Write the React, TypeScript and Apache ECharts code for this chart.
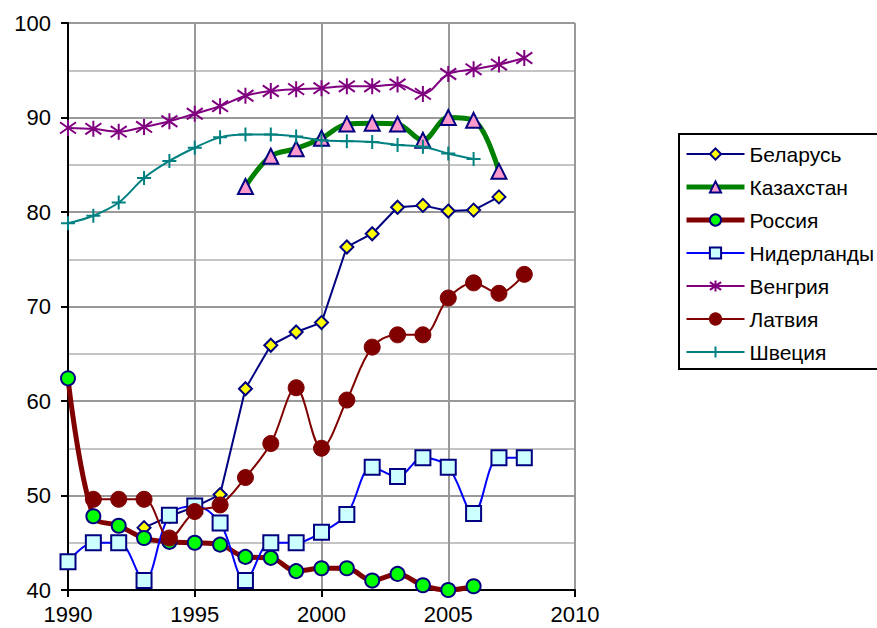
import React, { useEffect, useRef } from "react";
import * as echarts from "echarts";

const years = [1990, 1991, 1992, 1993, 1994, 1995, 1996, 1997, 1998, 1999, 2000, 2001, 2002, 2003, 2004, 2005, 2006, 2007, 2008];

const belarus = [null, null, null, 46.6, 47.8, 48.8, 50.1, 61.3, 65.9, 67.3, 68.3, 76.3, 77.7, 80.5, 80.7, 80.1, 80.2, 81.6, null];
const kazakhstan = [null, null, null, null, null, null, null, 82.7, 85.9, 86.7, 87.8, 89.3, 89.4, 89.3, 87.6, 90.0, 89.7, 84.3, null];
const russia = [62.4, 47.8, 46.8, 45.5, 45.1, 45.0, 44.8, 43.5, 43.4, 42.0, 42.3, 42.3, 41.0, 41.7, 40.5, 40.0, 40.4, null, null];
const netherlands = [43.0, 45.0, 45.0, 41.0, 47.9, 48.9, 47.1, 41.0, 45.0, 45.0, 46.1, 48.0, 53.0, 52.0, 54.0, 53.0, 48.1, 54.0, 54.0];
const hungary = [88.9, 88.8, 88.5, 89.0, 89.6, 90.4, 91.2, 92.3, 92.8, 93.0, 93.1, 93.3, 93.3, 93.5, 92.5, 94.6, 95.1, 95.6, 96.3];
const latvia = [null, 49.6, 49.6, 49.6, 45.5, 48.3, 49.0, 51.9, 55.5, 61.4, 55.0, 60.1, 65.7, 67.0, 67.0, 70.9, 72.5, 71.4, 73.4];
const sweden = [78.8, 79.6, 81.0, 83.6, 85.4, 86.8, 87.9, 88.2, 88.2, 88.0, 87.6, 87.5, 87.4, 87.1, 86.9, 86.2, 85.6, null, null];

const names = ["Беларусь", "Казахстан", "Россия", "Нидерланды", "Венгрия", "Латвия", "Швеция"];

const xTicks = [1990, 1995, 2000, 2005, 2010];
const yTicks = [40, 50, 60, 70, 80, 90, 100];

const pairs = (vals: (number | null)[]) =>
  years.map((y, i) => [y, vals[i]]).filter((p) => p[1] !== null);

export default function App() {
  const ref = useRef<HTMLDivElement>(null);
  useEffect(() => {
    if (!ref.current) return;
    const chart = echarts.init(ref.current, null, { renderer: "svg" });
    const navy = "#000080";
    const star = "path://M5,0 L5,10 M0,1.5 L10,8.5 M10,1.5 L0,8.5";
    const plus = "path://M5,0 L5,10 M0,5 L10,5";
    const font = "Liberation Sans, Arial, sans-serif";
    const widths = [2, 5, 5, 2, 2, 2, 2];
    chart.setOption({
      animation: false,
      backgroundColor: "#ffffff",
      textStyle: { fontFamily: font },
      grid: { left: 68, right: 302, top: 23, bottom: 38, containLabel: false },
      legend: {
        orient: "vertical",
        left: 679,
        top: 134,
        itemWidth: 58,
        itemHeight: 14,
        itemGap: 11,
        padding: [9, 12, 6, 5],
        borderColor: "#000",
        borderWidth: 2,
        textStyle: { fontSize: 21, lineHeight: 22, color: "#000", fontFamily: font },
        data: names.map((n, i) => ({ name: n, lineStyle: { width: widths[i] } })),
      },
      xAxis: {
        type: "value",
        min: 1990,
        max: 2010,
        interval: 5,
        axisLine: { onZero: false, lineStyle: { color: "#000", width: 2 } },
        axisTick: { show: true, length: 7, lineStyle: { color: "#000", width: 2 } },
        axisLabel: {
          fontSize: 22,
          color: "#000",
          margin: 13,
          formatter: (v: number) => (xTicks.includes(v) ? String(v) : ""),
        },
        splitLine: { show: true, lineStyle: { color: "#999999", width: 2 } },
      },
      yAxis: {
        type: "value",
        min: 40,
        max: 100,
        interval: 10,
        axisLine: { show: true, onZero: false, lineStyle: { color: "#000", width: 2 } },
        axisTick: { show: true, length: 7, lineStyle: { color: "#000", width: 2 } },
        axisLabel: {
          fontSize: 22,
          color: "#000",
          margin: 17,
          formatter: (v: number) => (yTicks.includes(v) ? String(v) : ""),
        },
        splitLine: { show: true, lineStyle: { color: "#999999", width: 2 } },
        minorTick: { show: false, splitNumber: 2 },
        minorSplitLine: { show: true, lineStyle: { color: "#c4c4c4", width: 2 } },
      },
      series: [
        {
          name: names[0],
          type: "line",
          data: pairs(belarus),
          smooth: false,
          lineStyle: { color: navy, width: widths[0] },
          symbol: "diamond",
          symbolSize: 13,
          itemStyle: { color: "#ffff00", borderColor: navy, borderWidth: 2 },
          z: 2,
        },
        {
          name: names[1],
          type: "line",
          data: pairs(kazakhstan),
          smooth: 0.35,
          lineStyle: { color: "#008000", width: widths[1] },
          symbol: "triangle",
          symbolSize: 15,
          itemStyle: { color: "#ff99cc", borderColor: navy, borderWidth: 2 },
          z: 3,
        },
        {
          name: names[2],
          type: "line",
          data: pairs(russia),
          smooth: 0.35,
          lineStyle: { color: "#800000", width: widths[2] },
          symbol: "circle",
          symbolSize: 14,
          itemStyle: { color: "#00ff00", borderColor: navy, borderWidth: 2 },
          z: 4,
        },
        {
          name: names[3],
          type: "line",
          data: pairs(netherlands),
          smooth: 0.35,
          lineStyle: { color: "#0000ff", width: widths[3] },
          symbol: "rect",
          symbolSize: 15,
          itemStyle: { color: "#ccffff", borderColor: navy, borderWidth: 2 },
          z: 5,
        },
        {
          name: names[4],
          type: "line",
          data: pairs(hungary),
          smooth: 0.35,
          lineStyle: { color: "#800080", width: widths[4] },
          symbol: star,
          symbolSize: 16,
          itemStyle: { color: "none", borderColor: "#800080", borderWidth: 2 },
          z: 6,
        },
        {
          name: names[5],
          type: "line",
          data: pairs(latvia),
          smooth: 0.35,
          lineStyle: { color: "#800000", width: widths[5] },
          symbol: "circle",
          symbolSize: 16,
          itemStyle: { color: "#800000", borderColor: "#800000", borderWidth: 1 },
          z: 7,
        },
        {
          name: names[6],
          type: "line",
          data: pairs(sweden),
          smooth: 0.35,
          lineStyle: { color: "#008080", width: widths[6] },
          symbol: plus,
          symbolSize: 14,
          itemStyle: { color: "none", borderColor: "#008080", borderWidth: 2 },
          z: 8,
        },
      ],
    });
    return () => chart.dispose();
  }, []);
  return (
    <div
      ref={ref}
      style={{ position: "fixed", left: 0, top: 0, width: 877, height: 628, background: "#fff" }}
    />
  );
}
